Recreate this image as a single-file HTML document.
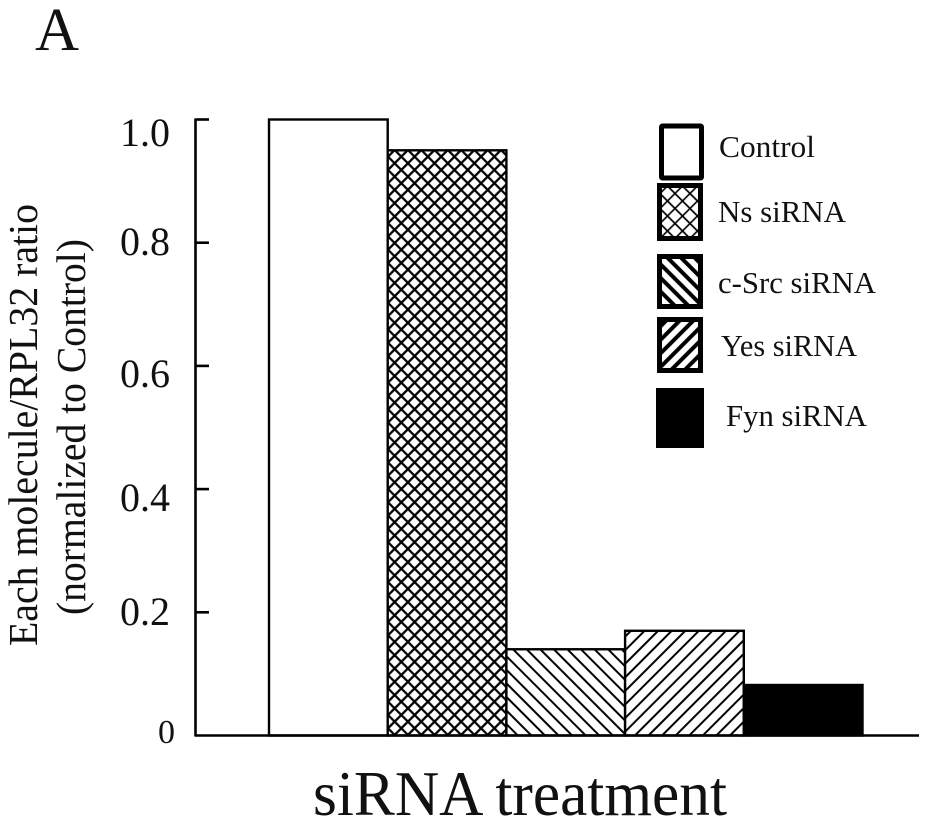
<!DOCTYPE html>
<html lang="en">
<head>
<meta charset="utf-8">
<title>siRNA treatment chart</title>
<style>
html,body{margin:0;padding:0;background:#fff;}
svg{display:block;font-family:"Liberation Serif",serif;fill:#111;}
</style>
</head>
<body>
<svg id="chart" xmlns="http://www.w3.org/2000/svg" width="945" height="823" viewBox="0 0 945 823">
<defs>
<pattern id="p-cross" width="9.4" height="9.4" patternUnits="userSpaceOnUse" patternTransform="translate(388 150) rotate(45)">
<rect width="9.4" height="9.4" fill="#fff"/>
<path d="M0 4.7H9.4M4.7 0V9.4" stroke="#000" stroke-width="2.3" fill="none"/>
</pattern>
<pattern id="p-back" width="9.6" height="9.6" patternUnits="userSpaceOnUse" patternTransform="translate(506 649) rotate(-45)">
<rect width="9.6" height="9.6" fill="#fff"/>
<path d="M4.8 0V9.6" stroke="#000" stroke-width="2" fill="none"/>
</pattern>
<pattern id="p-fwd" width="9.6" height="9.6" patternUnits="userSpaceOnUse" patternTransform="translate(625 630) rotate(45)">
<rect width="9.6" height="9.6" fill="#fff"/>
<path d="M4.8 0V9.6" stroke="#000" stroke-width="2" fill="none"/>
</pattern>
<pattern id="l-cross" width="10.6" height="10.6" patternUnits="userSpaceOnUse" patternTransform="translate(660 186) rotate(45)">
<rect width="10.6" height="10.6" fill="#fff"/>
<path d="M0 5.3H10.6M5.3 0V10.6" stroke="#000" stroke-width="1.6" fill="none"/>
</pattern>
<pattern id="l-back" width="9.6" height="9.6" patternUnits="userSpaceOnUse" patternTransform="translate(660 257) rotate(-45)">
<rect width="9.6" height="9.6" fill="#fff"/>
<path d="M4.8 0V9.6" stroke="#000" stroke-width="4" fill="none"/>
</pattern>
<pattern id="l-fwd" width="9.6" height="9.6" patternUnits="userSpaceOnUse" patternTransform="translate(660 320) rotate(45)">
<rect width="9.6" height="9.6" fill="#fff"/>
<path d="M4.8 0V9.6" stroke="#000" stroke-width="4" fill="none"/>
</pattern>
</defs>

<text x="35" y="50" font-size="61">A</text>

<text transform="translate(37 646) rotate(-90)" font-size="41" textLength="442" lengthAdjust="spacingAndGlyphs">Each molecule/RPL32 ratio</text>
<text transform="translate(85 615) rotate(-90)" font-size="41" textLength="376" lengthAdjust="spacingAndGlyphs">(normalized to Control)</text>

<g id="bars"></g>
<g id="axes"></g>

<text x="313" y="815" font-size="63" textLength="414" lengthAdjust="spacingAndGlyphs">siRNA treatment</text>

<g>
<g>
<rect x="661.5" y="126" width="40" height="52" fill="#fff" stroke="#000" stroke-width="5" rx="1"/>
<text x="719" y="157" font-size="31" textLength="96" lengthAdjust="spacingAndGlyphs">Control</text>
</g>
<g>
<rect x="659.5" y="185.5" width="41" height="53" fill="url(#l-cross)" stroke="#000" stroke-width="5"/>
<text x="718" y="222" font-size="31" textLength="128" lengthAdjust="spacingAndGlyphs">Ns siRNA</text>
</g>
<g>
<rect x="659.5" y="256.5" width="41" height="50" fill="url(#l-back)" stroke="#000" stroke-width="5"/>
<text x="718" y="293" font-size="31" textLength="158" lengthAdjust="spacingAndGlyphs">c-Src siRNA</text>
</g>
<g>
<rect x="659.5" y="319.5" width="41" height="51" fill="url(#l-fwd)" stroke="#000" stroke-width="5"/>
<text x="721" y="356" font-size="31" textLength="136" lengthAdjust="spacingAndGlyphs">Yes siRNA</text>
</g>
<g>
<rect x="656" y="388" width="48" height="60" fill="#000"/>
<text x="726" y="426" font-size="31" textLength="141" lengthAdjust="spacingAndGlyphs">Fyn siRNA</text>
</g>
</g>
</svg>

<script>
const categories = ["Control", "Ns siRNA", "c-Src siRNA", "Yes siRNA", "Fyn siRNA"];
const seriesValues = [1.0, 0.95, 0.14, 0.17, 0.082];
const tickValues = [0, 0.2, 0.4, 0.6, 0.8, 1.0];
const tickLabels = ["0", "0.2", "0.4", "0.6", "0.8", "1.0"];

const NS = "http://www.w3.org/2000/svg";
const fills = ["#fff", "url(#p-cross)", "url(#p-back)", "url(#p-fwd)", "#000"];
const labelNudge = {"0": 7.5, "0.2": 12.7, "0.4": 22, "0.6": 21, "0.8": 12.3, "1.0": 26.5};
const plotLeft = 269, barStep = 118.7, barWidth = 118.7;
const yZero = 735.5, yUnit = 616;

function yScale(v) { return yZero - v * yUnit; }
function xScale(i) { return plotLeft + i * barStep; }
function slug(s) { return s.toLowerCase().replace(/[^a-z0-9]+/g, "-"); }

const barsGroup = document.getElementById("bars");
categories.forEach(function (c, i) {
  const r = document.createElementNS(NS, "rect");
  r.setAttribute("x", xScale(i));
  r.setAttribute("y", yScale(seriesValues[i]));
  r.setAttribute("width", barWidth);
  r.setAttribute("height", yZero - yScale(seriesValues[i]));
  r.setAttribute("fill", fills[i]);
  r.setAttribute("stroke", "#000");
  r.setAttribute("stroke-width", "2.4");
  
  
  barsGroup.appendChild(r);
});

const axesGroup = document.getElementById("axes");
function axisLine(x1, y1, x2, y2, name) {
  const l = document.createElementNS(NS, "line");
  l.setAttribute("x1", x1);
  l.setAttribute("y1", y1);
  l.setAttribute("x2", x2);
  l.setAttribute("y2", y2);
  l.setAttribute("stroke", "#000");
  l.setAttribute("stroke-width", "2.6");
  
  
  axesGroup.appendChild(l);
}
axisLine(195.5, yScale(1) - 1, 195.5, yZero + 1, "y-axis-line");
axisLine(195, yZero, 919, yZero, "x-axis-line");

tickValues.forEach(function (v, i) {
  if (v > 0) axisLine(195.5, yScale(v), 209, yScale(v), "y-tick-" + tickLabels[i]);
  const t = document.createElementNS(NS, "text");
  t.textContent = tickLabels[i];
  t.setAttribute("x", v === 0 ? 175 : 170);
  t.setAttribute("text-anchor", "end");
  t.setAttribute("y", yScale(v) + labelNudge[tickLabels[i]]);
  t.setAttribute("font-size", v === 0 ? 34 : 40);
  
  
  axesGroup.appendChild(t);
});
</script>
</body>
</html>
